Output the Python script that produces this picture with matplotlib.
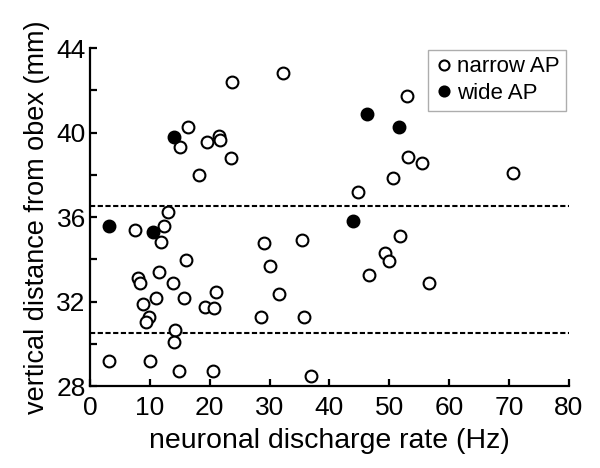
import numpy as np
import matplotlib
matplotlib.use('Agg')
import matplotlib.pyplot as plt

plt.rcParams['font.family'] = ['Liberation Sans', 'DejaVu Sans']

# narrow AP units: discharge rate (Hz), distance from obex (mm)
narrow_rate = [23.7, 32.2, 16.4, 15.0, 19.5, 21.6, 21.7, 23.5, 18.2, 13.1,
               7.6, 12.4, 11.9, 16.1, 11.6, 8.0, 8.4, 13.9, 21.0, 8.9,
               11.1, 15.7, 19.2, 20.7, 9.8, 9.4, 14.2, 14.0, 3.1, 10.0,
               14.9, 20.6, 29.0, 35.5, 30.1, 31.5, 28.6, 35.8, 37.0, 53.0,
               53.1, 55.5, 50.7, 70.6, 44.7, 51.8, 49.3, 49.9, 46.7, 56.6]
narrow_dist = [42.4, 42.8, 40.25, 39.3, 39.55, 39.85, 39.65, 38.8, 38.0, 36.25,
               35.4, 35.6, 34.8, 33.95, 33.4, 33.1, 32.9, 32.9, 32.45, 31.9,
               32.15, 32.15, 31.75, 31.7, 31.25, 31.05, 30.65, 30.1, 29.2, 29.2,
               28.7, 28.7, 34.75, 34.9, 33.7, 32.35, 31.25, 31.25, 28.5, 41.75,
               38.85, 38.55, 37.85, 38.1, 37.2, 35.1, 34.3, 33.9, 33.25, 32.9]

# wide AP units
wide_rate = [3.2, 10.6, 14.1, 46.2, 51.7, 44.0]
wide_dist = [35.6, 35.3, 39.8, 40.9, 40.25, 35.8]

# boundaries (dashed)
bounds = [36.5, 30.5]

fig = plt.figure(figsize=(6, 4.68), dpi=100)
ax = fig.add_axes([0.15, 0.175, 0.798, 0.7224])

for b in bounds:
    ax.plot([0, 80], [b, b], color='black', lw=1.5, ls=(0, (2.5, 1.2)), zorder=1)

ax.plot(narrow_rate, narrow_dist, 'o', ms=8.5, mfc='white', mec='black',
        mew=1.5, label='narrow AP', zorder=3)
ax.plot(wide_rate, wide_dist, 'o', ms=8.5, mfc='black', mec='black',
        mew=1.5, label='wide AP', zorder=4)

ax.set_xlim(0, 80)
ax.set_ylim(28, 44)
ax.set_xticks(np.arange(0, 81, 10))
ax.set_yticks(np.arange(28, 45, 4))
ax.set_yticks(np.arange(30, 44, 4), minor=True)

for s in ['top', 'right']:
    ax.spines[s].set_visible(False)
for s in ['left', 'bottom']:
    ax.spines[s].set_linewidth(1.6)

ax.tick_params(axis='both', which='both', direction='in', width=1.6, length=5,
               labelsize=19)
ax.tick_params(axis='x', pad=7)
ax.tick_params(axis='y', pad=3)

ax.set_xlabel('neuronal discharge rate (Hz)', fontsize=20.5, labelpad=6)
ax.set_ylabel('vertical distance from obex (mm)', fontsize=19.5, labelpad=5)

leg = ax.legend(loc='upper right', bbox_to_anchor=(0.995, 0.995), borderaxespad=0,
                fancybox=False, fontsize=16, handletextpad=0.2, handlelength=0.8,
                markerscale=0.85, borderpad=0.3, labelspacing=0.25)
leg.get_frame().set_edgecolor('#999999')
leg.get_frame().set_linewidth(1.0)

fig.savefig('out.png', dpi=100)
